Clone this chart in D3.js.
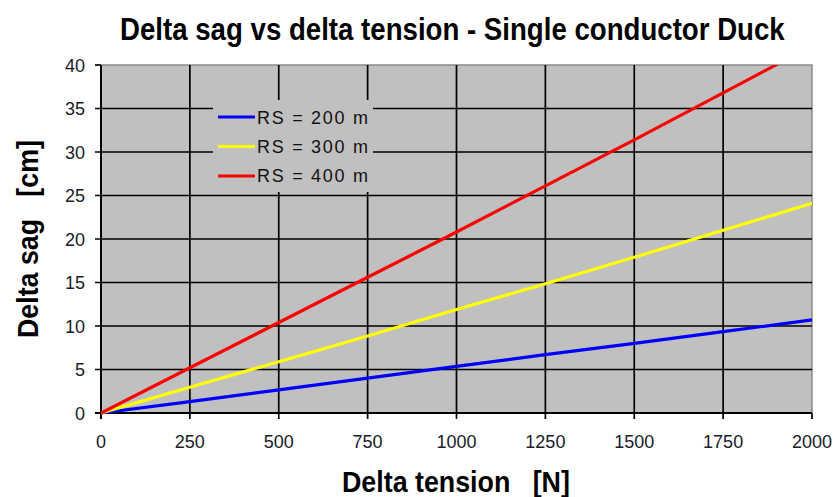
<!DOCTYPE html>
<html><head><meta charset="utf-8">
<script src="https://cdn.jsdelivr.net/npm/d3@7"></script>
<style>body{margin:0;background:#fff;}svg{display:block;}</style>
</head><body>
<svg id="c" width="837" height="497"></svg>
<script>
const tension = [0, 250, 500, 750, 1000, 1250, 1500, 1750, 2000];
const rs200 = [0, 1.3, 2.65, 4.0, 5.35, 6.7, 8.0, 9.35, 10.7];
const rs300 = [0, 2.95, 5.9, 8.85, 11.9, 14.85, 17.9, 21.0, 24.1];
const rs400 = [0, 5.2, 10.4, 15.6, 20.8, 26.1, 31.4, 36.8, 42.2];
const seriesNames = ["RS = 200 m", "RS = 300 m", "RS = 400 m"];
const xTicks = [0, 250, 500, 750, 1000, 1250, 1500, 1750, 2000];
const yTicks = [0, 5, 10, 15, 20, 25, 30, 35, 40];

const colors = ["#0000ff", "#ffff00", "#ff0000"];
const FONT = "Liberation Sans, Arial, sans-serif";
const svg = d3.select("#c");
const L = 101, T = 65, R = 812, B = 413;
const x = d3.scaleLinear().domain([0, 2000]).range([L, R]);
const y = d3.scaleLinear().domain([0, 40]).range([B, T]);

svg.append("rect").attr("x", L).attr("y", T).attr("width", R - L).attr("height", B - T)
  .attr("fill", "#c0c0c0").attr("stroke", "#8a8a8a").attr("stroke-width", 1.5);

// grid
const g = svg.append("g");
g.selectAll(".vg").data(xTicks.slice(1, -1)).join("line")
  .attr("x1", d => x(d)).attr("x2", d => x(d)).attr("y1", T).attr("y2", B + 6)
  .attr("stroke", "#000").attr("stroke-width", 1.7);
g.selectAll(".hg").data(yTicks.slice(1, -1)).join("line")
  .attr("x1", L - 6).attr("x2", R).attr("y1", d => y(d)).attr("y2", d => y(d))
  .attr("stroke", "#000").attr("stroke-width", 1.7);
g.append("line").attr("x1", x(2000)).attr("x2", x(2000)).attr("y1", B).attr("y2", B + 6).attr("stroke", "#000").attr("stroke-width", 1.7);
g.append("line").attr("x1", L - 6).attr("x2", L).attr("y1", T).attr("y2", T).attr("stroke", "#000").attr("stroke-width", 1.7);

// axes lines
svg.append("line").attr("x1", L).attr("x2", L).attr("y1", T).attr("y2", B + 6).attr("stroke", "#000").attr("stroke-width", 2);
svg.append("line").attr("x1", L - 6).attr("x2", R).attr("y1", B).attr("y2", B).attr("stroke", "#000").attr("stroke-width", 2);

// tick labels
svg.selectAll(".xt").data(xTicks).join("text")
  .attr("x", d => x(d)).attr("y", B + 35).attr("text-anchor", "middle")
  .attr("font-family", FONT).attr("font-size", 18).attr("fill", "#1a1a2a")
  .text(d => d);
svg.selectAll(".yt").data(yTicks).join("text")
  .attr("x", 85).attr("y", d => y(d) + 6.5).attr("text-anchor", "end")
  .attr("font-family", FONT).attr("font-size", 18).attr("fill", "#1a1a2a")
  .text(d => d);

// lines
svg.append("clipPath").attr("id", "pc").append("rect")
  .attr("x", L).attr("y", T).attr("width", R - L).attr("height", B - T + 3);
const all = [rs200, rs300, rs400];
const line = d3.line().x((d, i) => x(tension[i])).y(d => y(d));
all.forEach((s, k) => {
  svg.append("path").datum(s).attr("d", line).attr("fill", "none")
    .attr("stroke", colors[k]).attr("stroke-width", 3.2).attr("clip-path", "url(#pc)");
});

// legend
svg.append("rect").attr("x", 213).attr("y", 100).attr("width", 160).attr("height", 92).attr("fill", "#c0c0c0");
seriesNames.forEach((n, k) => {
  const ly = 117 + k * 29.5;
  svg.append("line").attr("x1", 218).attr("x2", 255).attr("y1", ly).attr("y2", ly)
    .attr("stroke", colors[k]).attr("stroke-width", 3);
  svg.append("text").attr("x", 257).attr("y", 124 + k * 29).attr("font-family", FONT)
    .attr("font-size", 18).attr("fill", "#111")
    .attr("textLength", 111).attr("lengthAdjust", "spacing").text(n);
});

// fitted, stretched bold labels
function fitted(txt, tx, ty, rot, targetLen, sy) {
  const grp = svg.append("g");
  const t = grp.append("text").attr("font-family", FONT).attr("font-weight", "bold")
    .attr("font-size", 22).attr("fill", "#000").attr("xml:space", "preserve").text(txt);
  const w = t.node().getComputedTextLength();
  const sx = targetLen / w;
  grp.attr("transform", `translate(${tx},${ty}) rotate(${rot}) scale(${sx},${sy})`);
}
fitted("Delta sag vs delta tension - Single conductor Duck", 120, 40, 0, 665, 1.4);
fitted("Delta tension   [N]", 342, 492, 0, 228, 1.38);
fitted("Delta sag   [cm]", 38, 338, -90, 198, 1.38);
</script>
</body></html>
